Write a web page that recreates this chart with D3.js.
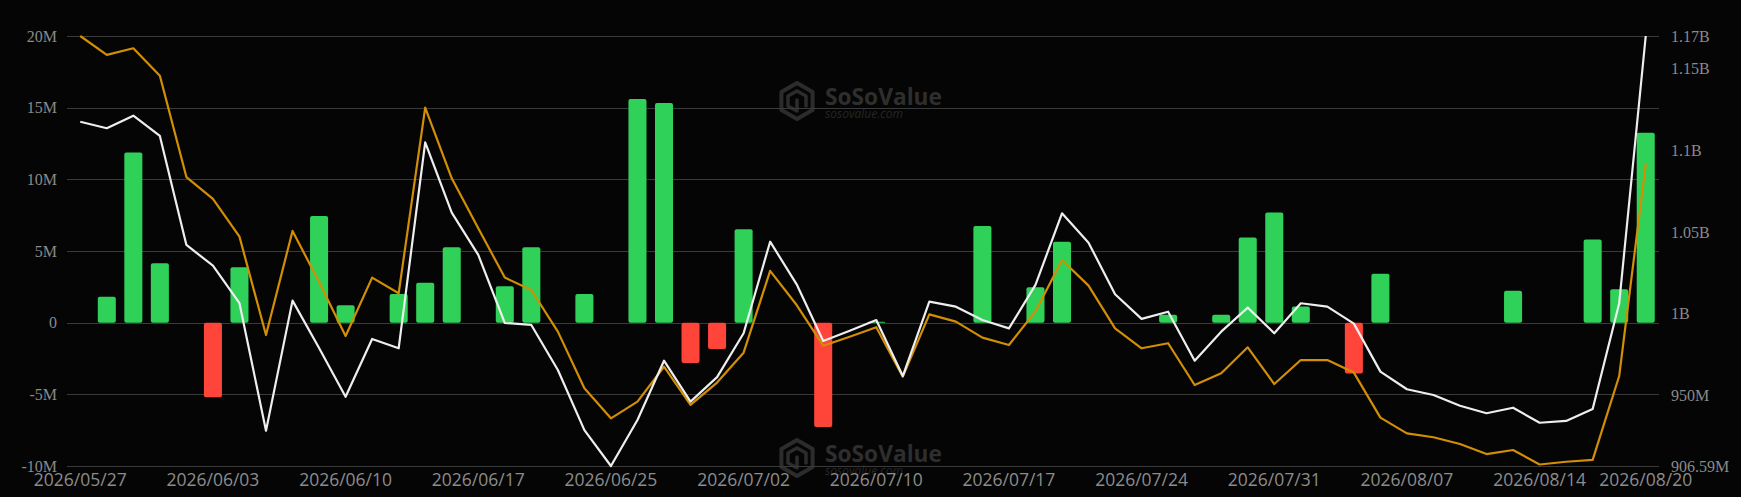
<!DOCTYPE html>
<html>
<head>
<meta charset="utf-8">
<script src="https://cdn.jsdelivr.net/npm/d3@7/dist/d3.min.js"></script>
<style>
html,body{margin:0;padding:0;background:#050505;}
svg{display:block;}
</style>
</head>
<body>
<svg id="chart" width="1741" height="497"></svg>
<script>
// ---------- DATA ----------
const categories = [
"2026/05/27","2026/05/28","2026/05/29","2026/06/01","2026/06/02","2026/06/03","2026/06/04","2026/06/05","2026/06/08","2026/06/09",
"2026/06/10","2026/06/11","2026/06/12","2026/06/15","2026/06/16","2026/06/17","2026/06/18","2026/06/22","2026/06/23","2026/06/24",
"2026/06/25","2026/06/26","2026/06/29","2026/06/30","2026/07/01","2026/07/02","2026/07/06","2026/07/07","2026/07/08","2026/07/09",
"2026/07/10","2026/07/13","2026/07/14","2026/07/15","2026/07/16","2026/07/17","2026/07/20","2026/07/21","2026/07/22","2026/07/23",
"2026/07/24","2026/07/27","2026/07/28","2026/07/29","2026/07/30","2026/07/31","2026/08/03","2026/08/04","2026/08/05","2026/08/06",
"2026/08/07","2026/08/10","2026/08/11","2026/08/12","2026/08/13","2026/08/14","2026/08/17","2026/08/18","2026/08/19","2026/08/20"
];
// daily net inflow (millions)
const netInflow = [
0,1.8,11.87,4.14,0,-5.2,3.86,0,0,7.45,
1.21,0,2.0,2.78,5.27,0,2.54,5.27,0,2.0,
0,15.6,15.33,-2.82,-1.84,6.51,0,0,-7.28,0,
0.07,0,0,0,6.74,0,2.47,5.65,0,0,
0,0.56,0,0.56,5.95,7.68,1.12,0,-3.55,3.42,
0,0,0,0,2.22,0,0,5.8,2.33,13.25
];
// total net assets (millions) - white line
const totalNetAssets = [
1117.5,1113.5,1121.2,1108.8,1042.0,1029.3,1006.3,928.2,1007.9,978.9,
949.0,984.4,978.7,1104.9,1061.8,1035.9,994.2,993.0,965.4,928.6,
906.59,934.8,971.1,946.0,961.0,987.9,1044.0,1017.9,983.2,989.5,
996.0,961.7,1007.3,1004.2,996.0,990.9,1017.5,1061.4,1043.4,1011.8,
996.7,1001.1,971.1,988.9,1003.6,987.9,1006.3,1004.2,993.8,964.4,
953.6,950.1,943.5,938.9,942.3,933.1,934.2,941.5,1006.3,1170
];
// second series (millions) - orange line
const secondSeries = [
1170,1158.4,1162.5,1145.7,1083.6,1070.2,1047.1,986.8,1050.6,1019.3,
986.2,1022.0,1012.4,1126.1,1082.8,1052.2,1022.0,1014.4,988.9,954.2,
935.8,946.0,967.4,944.0,957.7,976.0,1026.1,1005.2,980.3,985.8,
991.6,961.3,999.5,995.0,985.2,980.7,1001.3,1032.8,1017.1,990.9,
978.7,981.8,956.2,963.4,979.3,956.8,971.5,971.5,963.8,936.2,
926.6,924.2,920.1,913.9,916.4,907.5,909.2,910.3,961.7,1091.6
];
const leftTicks = [-10,-5,0,5,10,15,20];
const leftTickLabels = ["-10M","-5M","0","5M","10M","15M","20M"];
const rightTicks = [906.59,950,1000,1050,1100,1150,1170];
const rightTickLabels = ["906.59M","950M","1B","1.05B","1.1B","1.15B","1.17B"];
const xLabelEvery = 5;

// ---------- LAYOUT ----------
const L = 67, R = 1659, T = 36, B = 466;
const svg = d3.select("#chart");
svg.append("rect").attr("width",1741).attr("height",497).attr("fill","#050505");

const x = d3.scaleBand().domain(categories).range([L,R]).paddingInner(0.32).paddingOuter(0.16);
const yL = d3.scaleLinear().domain([-10,20]).range([B,T]);
const yR = d3.scaleLinear().domain([906.59,1170]).range([B,T]);
const cx = d => x(d) + x.bandwidth()/2;

// ---------- WATERMARKS ----------
function watermark(cyc){
  const g = svg.append("g").attr("class","wm");
  const cxh = 797, r = 18;
  const pts = d3.range(6).map(k=>{const a=Math.PI/3*k - Math.PI/2; return [cxh + r*Math.cos(a), cyc + r*Math.sin(a)];});
  g.append("path").attr("d","M"+pts.map(p=>p.join(",")).join("L")+"Z")
    .attr("fill","none").attr("stroke","#2c2c2c").attr("stroke-width",4).attr("stroke-linejoin","round");
  g.append("path").attr("d",`M${cxh-9},${cyc-5} L${cxh},${cyc-10} L${cxh+9},${cyc-5} M${cxh-9},${cyc-5} L${cxh-9},${cyc+5} L${cxh},${cyc+10} M${cxh},${cyc-1} L${cxh},${cyc+10} M${cxh+9},${cyc-5} L${cxh+9},${cyc+5}`)
    .attr("fill","none").attr("stroke","#2c2c2c").attr("stroke-width",3.5).attr("stroke-linecap","round");
  g.append("text").attr("x",825).attr("y",cyc+4).attr("font-family","Open Sans").attr("font-weight","bold")
    .attr("font-size",23).attr("textLength",117).attr("lengthAdjust","spacingAndGlyphs").attr("fill","#2e2e2e").text("SoSoValue");
  g.append("text").attr("x",825).attr("y",cyc+17).attr("font-family","Open Sans").attr("font-style","italic")
    .attr("font-size",12).attr("textLength",78).attr("lengthAdjust","spacingAndGlyphs").attr("fill","#262626").text("sosovalue.com");
}
watermark(101);
watermark(458);

// ---------- GRID ----------
svg.append("g").selectAll("line").data(leftTicks).join("line")
  .attr("x1",L).attr("x2",R).attr("y1",d=>Math.round(yL(d))+0.5).attr("y2",d=>Math.round(yL(d))+0.5)
  .attr("stroke","#3a3a3a").attr("stroke-width",1);

// ---------- AXES ----------
const leftAxis = d3.axisLeft(yL).tickValues(leftTicks).tickFormat((d,i)=>leftTickLabels[i]).tickSize(0).tickPadding(10);
const gl = svg.append("g").attr("transform",`translate(${L},0)`).call(leftAxis);
gl.select(".domain").remove();
gl.selectAll("text").attr("font-family","Liberation Serif").attr("font-size",16).attr("fill","#8a8a8a");

const rightAxis = d3.axisRight(yR).tickValues(rightTicks).tickFormat((d,i)=>rightTickLabels[i]).tickSize(0).tickPadding(12);
const gr = svg.append("g").attr("transform",`translate(${R},0)`).call(rightAxis);
gr.select(".domain").remove();
gr.selectAll("text").attr("font-family","Liberation Serif").attr("font-size",16).attr("fill","#8a8a8a");

const xTickVals = categories.filter((d,i)=> i % xLabelEvery === 0 || i === categories.length-1);
const bottomAxis = d3.axisBottom(x).tickValues(xTickVals).tickSize(0).tickPadding(8);
const gb = svg.append("g").attr("transform",`translate(0,${B})`).call(bottomAxis);
gb.select(".domain").remove();
gb.selectAll("text").attr("font-family","Open Sans").attr("font-size",17.5).attr("fill","#8c8c8c");

// ---------- BARS ----------
const barData = categories.map((c,i)=>({c, v: netInflow[i]})).filter(d=>d.v !== 0);
svg.append("g").selectAll("rect").data(barData).join("rect")
  .attr("x",d=>x(d.c))
  .attr("width",x.bandwidth())
  .attr("y",d=>Math.min(yL(d.v), yL(0)))
  .attr("height",d=>Math.max(1, Math.abs(yL(d.v)-yL(0))))
  .attr("rx",2).attr("ry",2)
  .attr("fill",d=>d.v>0 ? "#30d158" : "#ff453a");

// ---------- LINES ----------
const line = d3.line().x((d,i)=>cx(categories[i])).y(d=>yR(d));
svg.append("path").datum(secondSeries).attr("d",line)
  .attr("fill","none").attr("stroke","#d28e04").attr("stroke-width",2.2).attr("stroke-linejoin","round");
svg.append("path").datum(totalNetAssets).attr("d",line)
  .attr("fill","none").attr("stroke","#eeeeee").attr("stroke-width",2.2).attr("stroke-linejoin","round");
</script>
</body>
</html>
